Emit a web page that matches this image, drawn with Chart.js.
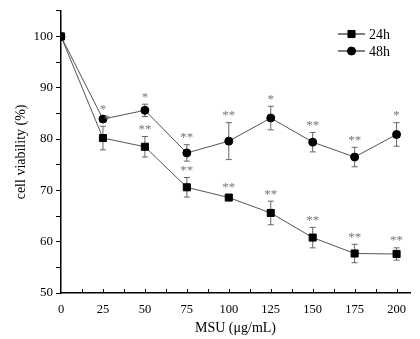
<!DOCTYPE html>
<html>
<head>
<meta charset="utf-8">
<script src="https://cdn.jsdelivr.net/npm/chart.js@4.4.1/dist/chart.umd.min.js"></script>
<style>
  html, body { margin: 0; padding: 0; background: #fff; }
  #wrap { width: 420px; height: 339px; }
</style>
</head>
<body>
<div id="wrap"><canvas id="viability"></canvas></div>
<script>
// MSU dose (ug/mL)
const doses = [0, 25, 50, 75, 100, 125, 150, 175, 200];

// cell viability (%)
const v24 = [100, 80.2, 78.5, 70.6, 68.6, 65.6, 60.8, 57.7, 57.6];
const e24 = [0, 2.3, 2.0, 1.9, 0.5, 2.3, 2.0, 1.8, 1.2];
const s24 = ['', '*', '**', '**', '**', '**', '**', '**', '**'];

const v48 = [100, 83.9, 85.6, 77.3, 79.6, 84.1, 79.4, 76.5, 80.9];
const e48 = [0, 0.5, 1.2, 1.6, 3.6, 2.3, 1.9, 1.9, 2.3];
const s48 = ['', '*', '*', '**', '**', '*', '**', '**', '*'];

const serif = '"Liberation Serif", "DejaVu Serif", serif';

function pts(vals) {
  return doses.map((d, i) => ({ x: d, y: vals[i] }));
}

const errs = [e24, e48];
const stars = [s24, s48];

const extras = {
  id: 'extras',
  beforeDatasetsDraw(chart) {
    const ctx = chart.ctx, xs = chart.scales.x, ys = chart.scales.y;
    ctx.save();
    ctx.strokeStyle = '#666';
    ctx.lineWidth = 1;
    chart.data.datasets.forEach((ds, k) => {
      ds.data.forEach((p, i) => {
        const e = errs[k][i];
        if (!e) return;
        const px = xs.getPixelForValue(p.x);
        const t = ys.getPixelForValue(p.y + e), b = ys.getPixelForValue(p.y - e);
        ctx.beginPath();
        ctx.moveTo(px, t); ctx.lineTo(px, b);
        ctx.moveTo(px - 3, t); ctx.lineTo(px + 3, t);
        ctx.moveTo(px - 3, b); ctx.lineTo(px + 3, b);
        ctx.stroke();
      });
    });
    ctx.restore();
  },
  afterDatasetsDraw(chart) {
    const ctx = chart.ctx, xs = chart.scales.x, ys = chart.scales.y;
    ctx.save();
    // significance marks
    ctx.fillStyle = '#777';
    ctx.font = '13px ' + serif;
    ctx.textAlign = 'center';
    ctx.textBaseline = 'middle';
    chart.data.datasets.forEach((ds, k) => {
      ds.data.forEach((p, i) => {
        const s = stars[k][i];
        if (!s) return;
        const px = xs.getPixelForValue(p.x);
        const t = ys.getPixelForValue(p.y + errs[k][i]);
        ctx.fillText(s, px + (k === 0 && i === 1 ? 4 : 0), t - 7);
      });
    });
    // inward x ticks
    const bottom = chart.chartArea.bottom;
    ctx.strokeStyle = '#000';
    ctx.lineWidth = 1;
    for (let d = 12.5; d <= 200; d += 12.5) {
      const px = Math.round(xs.getPixelForValue(d)) + 0.5;
      ctx.beginPath();
      ctx.moveTo(px, bottom);
      ctx.lineTo(px, bottom - 4);
      ctx.stroke();
    }
    // legend
    ctx.font = '14px ' + serif;
    ctx.textAlign = 'left';
    ctx.fillStyle = '#000';
    chart.data.datasets.forEach((ds, k) => {
      const y = 34 + k * 17;
      ctx.strokeStyle = '#000';
      ctx.beginPath();
      ctx.moveTo(338, y); ctx.lineTo(365, y);
      ctx.stroke();
      Chart.helpers.drawPoint(ctx, {
        pointStyle: ds.pointStyle, radius: ds.pointRadius, borderWidth: 1
      }, 351.5, y);
      ctx.fill();
      ctx.fillText(ds.label, 369, y + 1);
    });
    ctx.restore();
  }
};

new Chart(document.getElementById('viability'), {
  type: 'line',
  data: {
    datasets: [{
      label: '24h',
      data: pts(v24),
      borderColor: '#555',
      borderWidth: 1,
      pointStyle: 'rect',
      pointRadius: 5,
      pointBackgroundColor: '#000',
      pointBorderColor: '#000'
    }, {
      label: '48h',
      data: pts(v48),
      borderColor: '#555',
      borderWidth: 1,
      pointStyle: 'circle',
      pointRadius: 4,
      pointBackgroundColor: '#000',
      pointBorderColor: '#000'
    }]
  },
  options: {
    responsive: true,
    maintainAspectRatio: false,
    animation: false,
    layout: { padding: { top: 8, right: 10 } },
    plugins: { legend: { display: false }, tooltip: { enabled: false } },
    scales: {
      x: {
        type: 'linear',
        min: 0,
        max: 208,
        afterFit(s) { s.height = 46; },
        afterBuildTicks(s) {
          s.ticks = doses.map(d => ({ value: d }));
        },
        grid: { display: false },
        border: { color: '#000', width: 1.5 },
        ticks: {
          color: '#000',
          padding: 1,
          maxRotation: 0,
          font: { family: serif, size: 12.5 }
        },
        title: {
          display: true,
          text: 'MSU (μg/mL)',
          color: '#000',
          padding: { bottom: 2 },
          font: { family: serif, size: 14 }
        }
      },
      y: {
        min: 50,
        max: 105,
        afterFit(s) { s.width = 61; },
        grid: {
          drawOnChartArea: false,
          tickLength: 5,
          color: '#000'
        },
        border: { color: '#000', width: 1.5 },
        ticks: {
          stepSize: 5,
          color: '#000',
          padding: 3,
          font: { family: serif, size: 13 },
          callback: v => (v % 10 === 0 ? v : '')
        },
        title: {
          display: true,
          text: 'cell viability (%)',
          color: '#000',
          padding: { top: 13 },
          font: { family: serif, size: 14 }
        }
      }
    }
  },
  plugins: [extras]
});
</script>
</body>
</html>
